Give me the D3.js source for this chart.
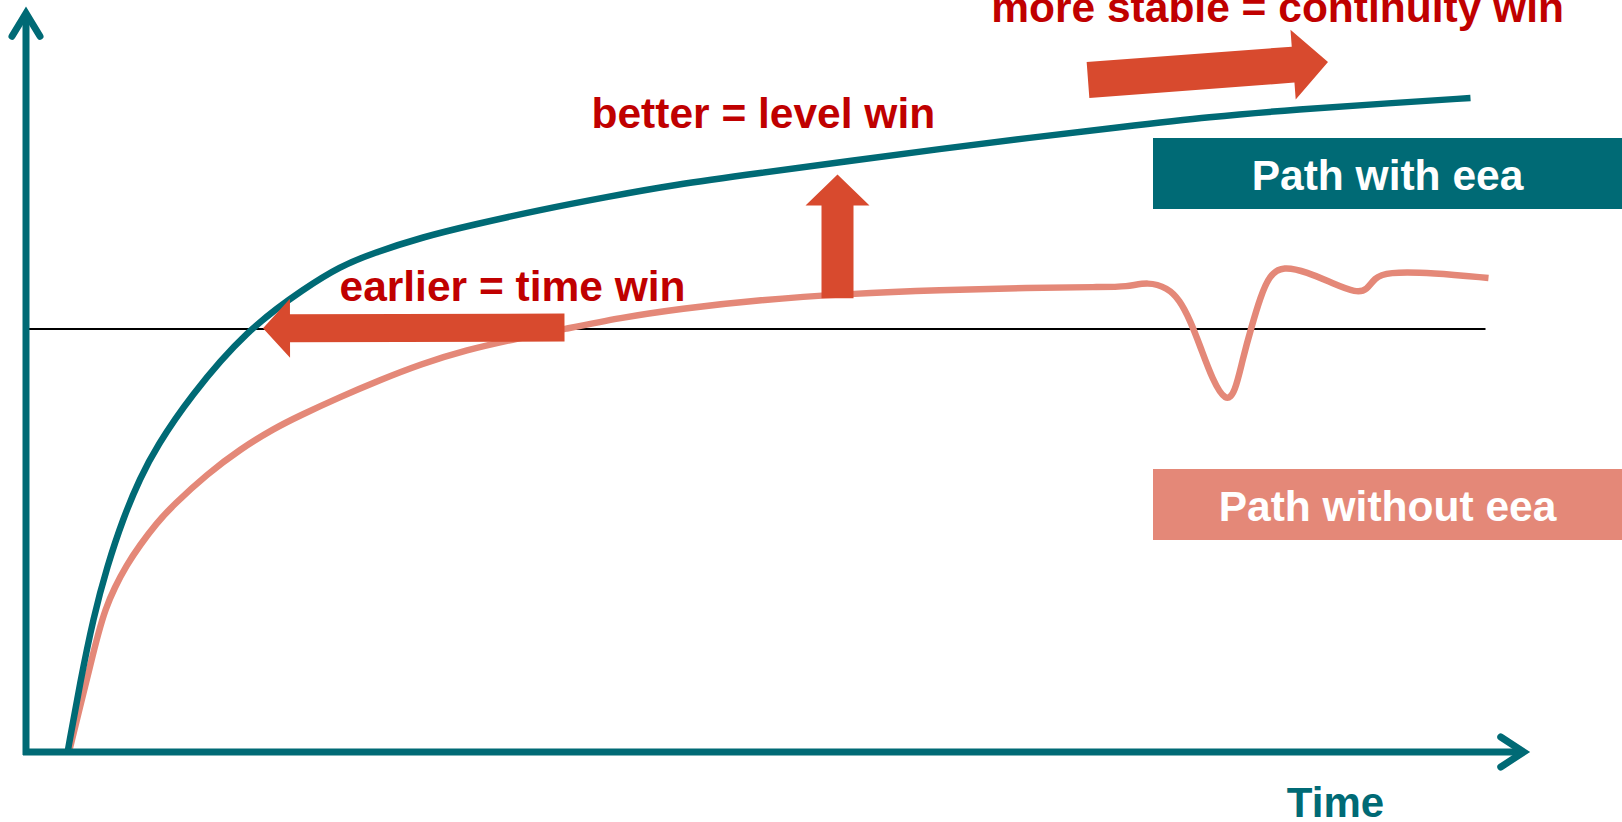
<!DOCTYPE html>
<html>
<head>
<meta charset="utf-8">
<script src="https://cdn.jsdelivr.net/npm/d3@7"></script>
<style>
  html, body { margin: 0; padding: 0; background: #fff; overflow: hidden; }
  svg { display: block; }
</style>
</head>
<body>
<div id="chart"></div>
<script>
// path with eea (time, level)
const timeWith  = [2.8, 3.6, 4.5, 5.4, 6.5, 7.6, 8.7, 10.9, 14.7, 18.7, 20.9, 23.1, 26.5, 29.8, 34.3, 38.7, 43.1, 48.9, 54.9, 60.9, 66.9, 72.9, 78.9, 84.9, 90.9, 96.3];
const levelWith = [0.3, 9.2, 18.0, 24.7, 31.3, 36.5, 40.7, 47.3, 56.3, 62.0, 64.7, 66.5, 68.7, 70.3, 72.3, 74.0, 75.6, 77.2, 78.8, 80.4, 81.9, 83.3, 84.7, 85.7, 86.5, 87.2];

// path without eea (time, level)
const timeWithout  = [2.9, 3.6, 4.3, 4.8, 5.3, 5.9, 6.7, 7.6, 8.7, 9.8, 12.1, 14.3, 16.5, 18.3, 20.9, 23.6, 26.3, 29.3, 32.9, 35.9, 39.6, 43.6, 48.9, 54.9, 60.9, 66.9, 71.6, 73.4, 74.8, 76.1, 76.9, 77.6, 78.3, 79.1, 80.0, 80.6, 81.1, 81.7, 82.3, 82.9, 83.8, 85.4, 87.1, 88.7, 89.4, 89.9, 90.7, 93.8, 97.5];
const levelWithout = [0.3, 6.0, 11.7, 15.7, 19.1, 21.9, 24.9, 27.6, 30.5, 32.9, 37.1, 40.4, 43.1, 44.9, 47.3, 49.6, 51.7, 53.6, 55.2, 56.4, 57.9, 59.1, 60.3, 61.1, 61.6, 61.9, 62.0, 62.0, 62.7, 61.9, 60.3, 57.6, 54.0, 49.6, 46.6, 47.9, 52.3, 56.7, 60.7, 63.6, 64.8, 64.0, 62.5, 61.2, 61.6, 63.2, 64.0, 63.9, 63.2];

const thresholdLevel = 56.4;
const thresholdSpan = [0.2, 97.3];

const legendLabels = ["Path with eea", "Path without eea"];
const annotationLabels = ["earlier = time win", "better = level win", "more stable = continuity win"];
const axisLabel = "Time";

const TEAL = "#006a75";
const SALMON = "#e48878";
const ARROW = "#d84a2e";
const RED = "#c00000";
const FONT = "'Liberation Sans', Arial, sans-serif";

const width = 1622, height = 822;

const svg = d3.select("#chart").append("svg")
  .attr("width", width)
  .attr("height", height);

const x = d3.scaleLinear().domain([0, 100]).range([26, 1526]);
const y = d3.scaleLinear().domain([0, 100]).range([752, 2]);

// hand-read points are a bit noisy, a b-spline evens them out
const line = d3.line()
  .x(d => x(d[0]))
  .y(d => y(d[1]))
  .curve(d3.curveBasis);

// threshold
svg.append("line")
  .attr("x1", x(thresholdSpan[0])).attr("x2", x(thresholdSpan[1]))
  .attr("y1", y(thresholdLevel)).attr("y2", y(thresholdLevel))
  .attr("stroke", "#000")
  .attr("stroke-width", 2);

// curves
svg.append("path")
  .datum(d3.zip(timeWithout, levelWithout))
  .attr("d", line)
  .attr("fill", "none")
  .attr("stroke", SALMON)
  .attr("stroke-width", 6.5);

svg.append("path")
  .datum(d3.zip(timeWith, levelWith))
  .attr("d", line)
  .attr("fill", "none")
  .attr("stroke", TEAL)
  .attr("stroke-width", 6.5);

// axes with chevron heads
const axes = svg.append("g")
  .attr("stroke", TEAL)
  .attr("stroke-width", 7)
  .attr("fill", "none");

axes.append("line")
  .attr("x1", x(0)).attr("x2", x(0))
  .attr("y1", y(0) + 3).attr("y2", y(98.5));
axes.append("line")
  .attr("x1", x(-0.2)).attr("x2", x(99.8))
  .attr("y1", y(0)).attr("y2", y(0));

const yTip = [x(0), y(98.5)];
axes.append("path")
  .attr("stroke-linecap", "round")
  .attr("d", `M${yTip[0] - 14},${yTip[1] + 23}L${yTip[0]},${yTip[1]}L${yTip[0] + 14},${yTip[1] + 23}`);

const xTip = [x(99.85), y(0)];
axes.append("path")
  .attr("stroke-linecap", "round")
  .attr("d", `M${xTip[0] - 23},${xTip[1] - 15}L${xTip[0]},${xTip[1]}L${xTip[0] - 23},${xTip[1] + 15}`);

svg.append("text")
  .text(axisLabel)
  .attr("x", x(87.3))
  .attr("y", y(0) + 65)
  .attr("text-anchor", "middle")
  .attr("fill", TEAL)
  .attr("font-family", FONT)
  .attr("font-weight", "bold")
  .attr("font-size", "42px");

// block arrows
function arrowPoints(p0, p1, shaftHalf, headHalf, headLen) {
  const dx = p1[0] - p0[0], dy = p1[1] - p0[1];
  const len = Math.hypot(dx, dy);
  const ux = dx / len, uy = dy / len, nx = -uy, ny = ux;
  const b = len - headLen;
  const pt = (s, n) => [p0[0] + ux * s + nx * n, p0[1] + uy * s + ny * n];
  return [pt(0, shaftHalf), pt(b, shaftHalf), pt(b, headHalf), pt(len, 0),
          pt(b, -headHalf), pt(b, -shaftHalf), pt(0, -shaftHalf)];
}

const arrows = [
  { from: [35.9, 56.6], to: [15.8, 56.5], shaft: 14, head: 29.5, headLen: 27 },
  { from: [54.1, 60.5], to: [54.1, 77.0], shaft: 16, head: 32, headLen: 31 },
  { from: [70.8, 89.6], to: [86.8, 92.0], shaft: 18, head: 35, headLen: 35 },
];

svg.append("g").selectAll("polygon")
  .data(arrows)
  .join("polygon")
  .attr("points", d => arrowPoints(
      [x(d.from[0]), y(d.from[1])], [x(d.to[0]), y(d.to[1])],
      d.shaft, d.head, d.headLen).map(p => p.join(",")).join(" "))
  .attr("fill", ARROW);

// annotation texts
const annotationPos = [[20.9, 60.2], [37.7, 83.2], [64.35, 97.35]];

svg.append("g").selectAll("text")
  .data(annotationLabels)
  .join("text")
  .text(d => d)
  .attr("x", (d, i) => x(annotationPos[i][0]))
  .attr("y", (d, i) => y(annotationPos[i][1]))
  .attr("fill", RED)
  .attr("font-family", FONT)
  .attr("font-weight", "bold")
  .attr("font-size", "42.5px");

// legend boxes
const legendTop = [138, 469];
const legendColors = [TEAL, SALMON];
const legend = svg.append("g").selectAll("g")
  .data(legendLabels)
  .join("g")
  .attr("transform", (d, i) => `translate(1153,${legendTop[i]})`);

legend.append("rect")
  .attr("width", width - 1153)
  .attr("height", 71)
  .attr("fill", (d, i) => legendColors[i]);

legend.append("text")
  .text(d => d)
  .attr("x", (width - 1153) / 2)
  .attr("y", 52)
  .attr("text-anchor", "middle")
  .attr("fill", "#fff")
  .attr("font-family", FONT)
  .attr("font-weight", "bold")
  .attr("font-size", "42.5px");
</script>
</body>
</html>
